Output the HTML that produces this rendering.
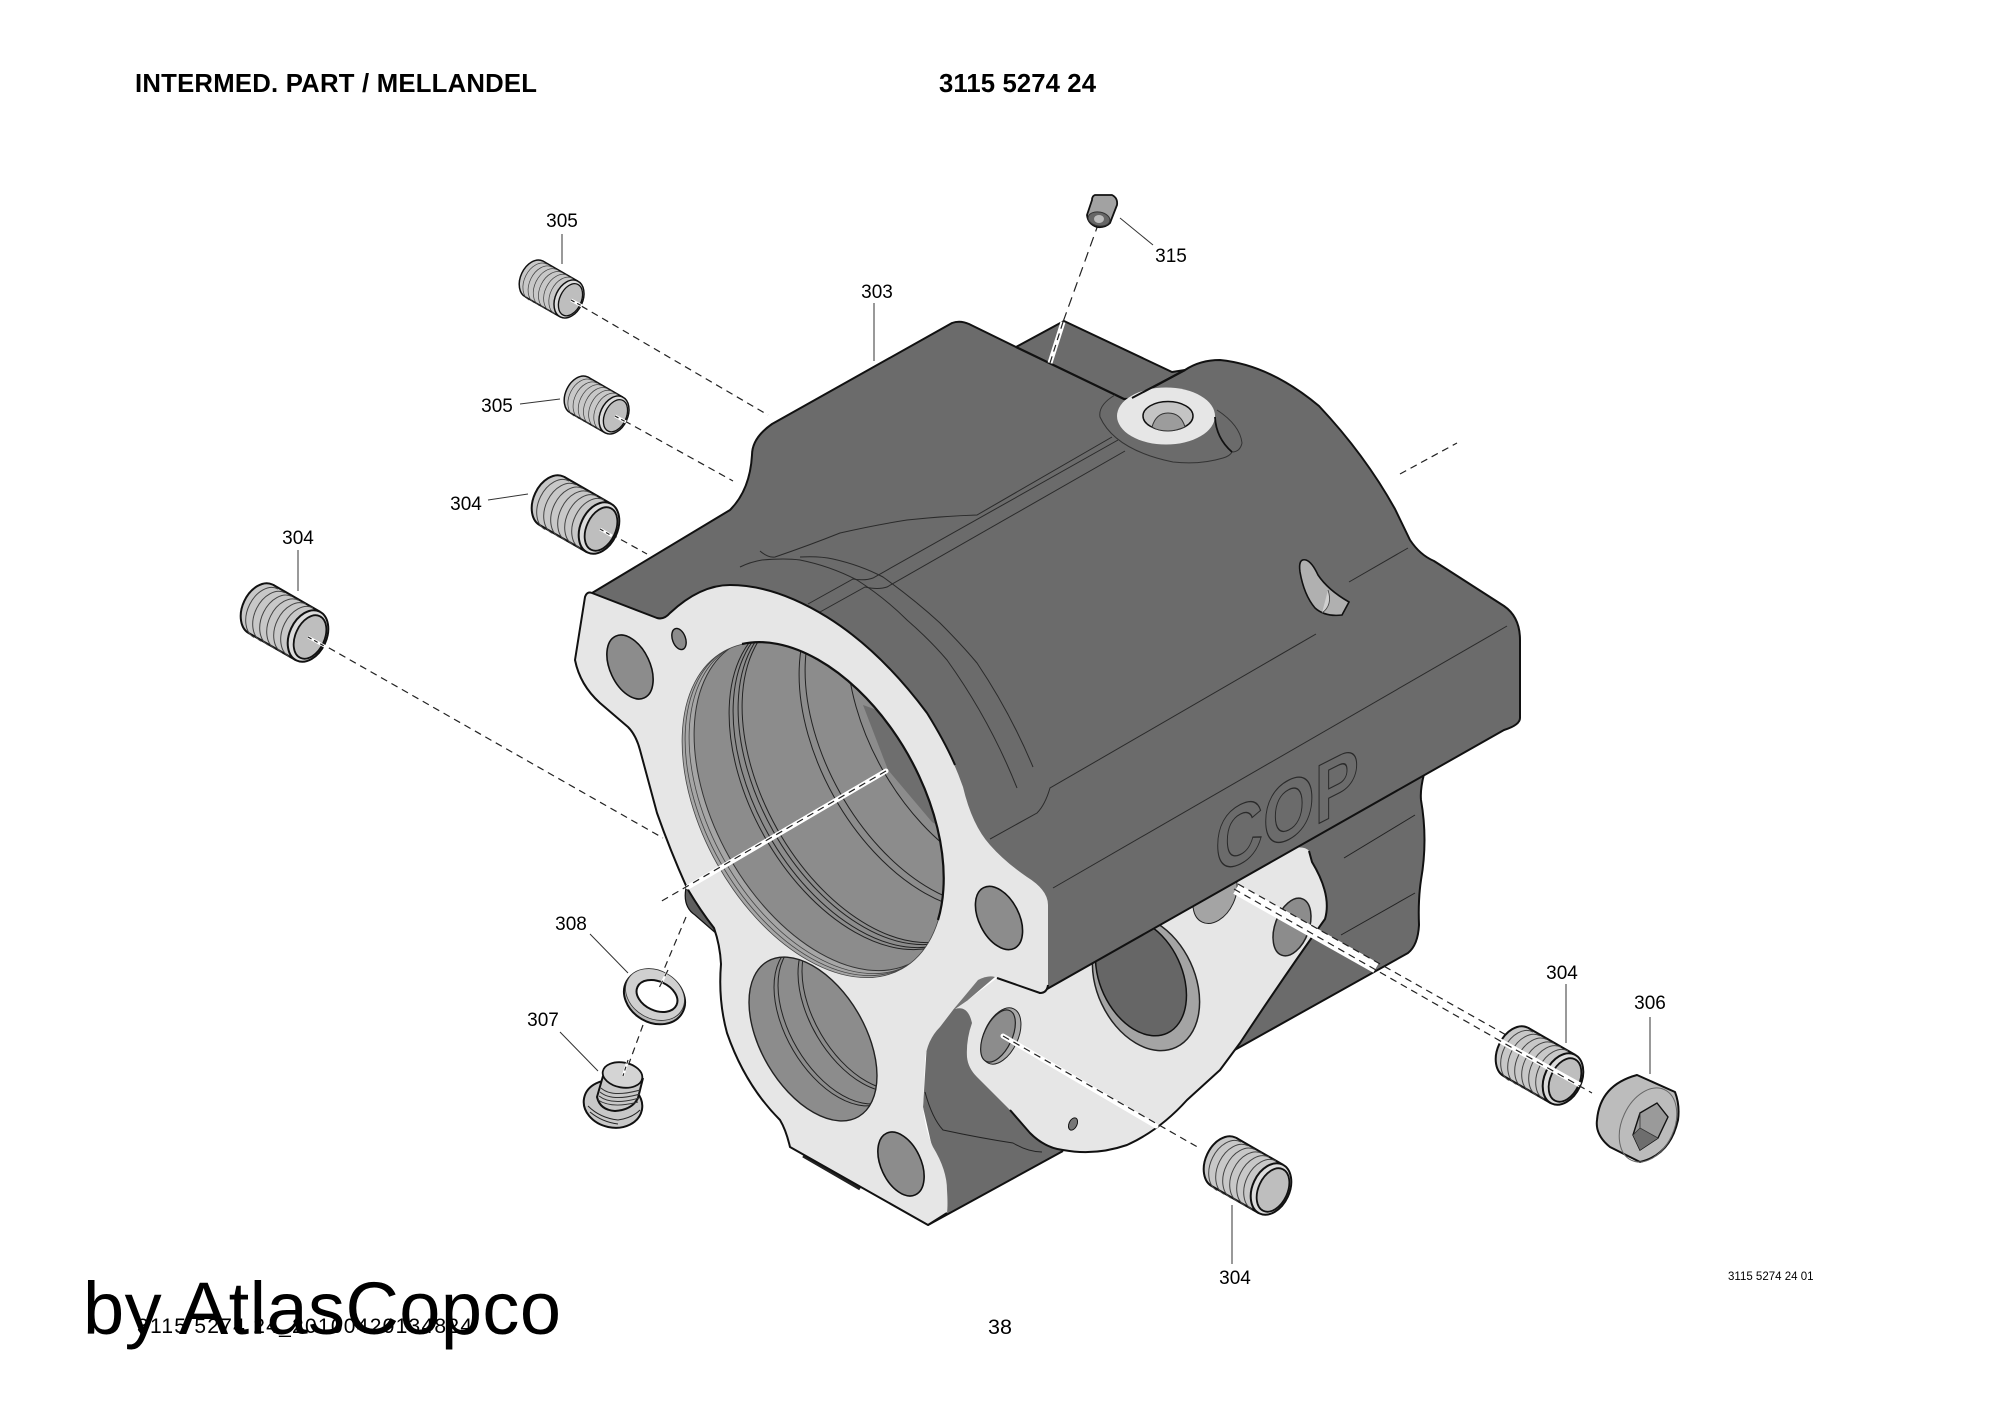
<!DOCTYPE html>
<html><head><meta charset="utf-8"><style>
html,body{margin:0;padding:0;background:#fff}
svg{display:block}
text{font-family:"Liberation Sans",Arial,sans-serif;fill:#000}
.l{font-size:19px;text-anchor:middle}
.ld{stroke:#333;stroke-width:1;fill:none}
.t{stroke:#222;stroke-width:1;fill:none}
.tg{stroke:#2a2a2a;stroke-width:1;fill:none}
.d{stroke:#222;stroke-width:1.2;fill:none;stroke-dasharray:7 5}
.w{stroke:#fff;stroke-width:5;fill:none}
</style></head><body>
<svg width="2000" height="1414" viewBox="0 0 2000 1414" xmlns="http://www.w3.org/2000/svg">
<defs>
<g id="s">
<ellipse cx="-47" cy="-27" rx="18.5" ry="27" transform="rotate(25 -47 -27)" fill="#c8c8c8" stroke="#111" stroke-width="2"/>
<polygon points="12,-24.2 -35,-51.2 -59,-2.8 -12,24.2" fill="#c8c8c8"/>
<path d="M12,-24.2L-35,-51.2M-59,-2.8L-12,24.2" stroke="#111" stroke-width="2" fill="none"/>
<path d="M5,-28a18.5 27 25 0 0 -24 48.4m17,-52.2a18.5 27 25 0 0 -24 48.4m17,-52.2a18.5 27 25 0 0 -24 48.4m17,-52.2a18.5 27 25 0 0 -24 48.4m17,-52.2a18.5 27 25 0 0 -24 48.4m17,-52.2a18.5 27 25 0 0 -24 48.4" stroke="#444" stroke-width="1" fill="none"/>
<ellipse rx="18.5" ry="27" transform="rotate(25)" fill="#dcdcdc" stroke="#111" stroke-width="2"/>
<ellipse cx="2" cy="1" rx="14.5" ry="23" transform="rotate(25 2 1)" fill="#bebebe" stroke="#111" stroke-width="1.8"/>
</g>
<clipPath id="cb"><ellipse cx="813" cy="810" rx="110" ry="182" transform="rotate(-29.3 813 810)"/></clipPath>
<clipPath id="cb2"><ellipse cx="813" cy="1039" rx="52" ry="90" transform="rotate(-30.5 813 1039)"/></clipPath>
</defs>
<rect width="2000" height="1414" fill="#fff"/>

<!-- lower back body -->
<path d="M1424,774Q1420,790 1421,800Q1428,840 1421,880Q1418,900 1419,925Q1418,945 1408,953L1231,1052L1100,1000L1293,848Z" fill="#6b6b6b" stroke="#111" stroke-width="2" stroke-linejoin="round"/>
<path d="M1344,858L1415,815M1341,935L1415,893" class="t"/>
<!-- pocket -->
<path d="M945,1000L980,1000L980,1023L1030,1100L1063,1151L928,1225L947,1213L923,1107L927,1043Z" fill="#6b6b6b"/>
<path d="M928,1225L1063,1151" stroke="#111" stroke-width="2" fill="none"/>
<path d="M925,1092Q932,1118 943,1130Q980,1138 1013,1143Q1028,1152 1042,1152" class="t"/>
<!-- flange 2 -->
<path d="M997,978L968,1000L955,1009Q968,1005 972,1023Q966,1040 967,1057Q968,1068 977,1077L1007,1107Q1025,1125 1030,1133Q1045,1148 1063,1150Q1095,1156 1127,1145Q1160,1130 1187,1100L1220,1070L1240,1043Q1285,975 1325,919Q1332,895 1312,862L1309,851Q1305,846 1293,848L1040,993Z" fill="#e6e6e6"/>
<path d="M1010,1110L1030,1133Q1045,1148 1063,1150Q1095,1156 1127,1145Q1160,1130 1187,1100L1220,1070L1240,1043Q1285,975 1325,919Q1332,895 1312,862L1309,851" fill="none" stroke="#111" stroke-width="2" stroke-linejoin="round"/>
<ellipse cx="1146" cy="983" rx="49" ry="71" transform="rotate(-25 1146 983)" fill="#a4a4a4" stroke="#222" stroke-width="1.5"/>
<ellipse cx="1141" cy="977" rx="41" ry="62" transform="rotate(-25 1141 977)" fill="#666" stroke="#111" stroke-width="1.5"/>
<ellipse cx="1292" cy="927" rx="17" ry="30" transform="rotate(20 1292 927)" fill="#8c8c8c" stroke="#222" stroke-width="1.5"/>
<ellipse cx="1215" cy="895" rx="20" ry="30" transform="rotate(25 1215 895)" fill="#a4a4a4" stroke="#222" stroke-width="1"/>
<ellipse cx="1001" cy="1036" rx="17" ry="30" transform="rotate(25 1001 1036)" fill="#a8a8a8" stroke="#222" stroke-width="1"/>
<ellipse cx="998" cy="1036" rx="14" ry="28" transform="rotate(25 998 1036)" fill="#8c8c8c" stroke="#222" stroke-width="1.2"/>
<ellipse cx="1073" cy="1124" rx="4" ry="6.5" transform="rotate(25 1073 1124)" fill="#777" stroke="#111" stroke-width="1"/>

<!-- main body -->
<path d="M592,593L730,510Q750,490 752,455Q752,438 772,424L952,323Q960,320 969,324L1016,347L1064,321L1172,372L1185,370Q1200,360 1220,360Q1270,365 1319,406Q1365,455 1395,509L1410,540Q1420,555 1434,561L1504,606Q1520,617 1520,640L1520,718Q1520,725 1504,730L1040,993Z" fill="#6b6b6b" stroke="#111" stroke-width="2" stroke-linejoin="round"/>
<path d="M1016,347L1124,399L1131,399L1185,370" fill="none" stroke="#111" stroke-width="2.2"/>
<!-- body thin lines -->
<path d="M760,551Q768,558 775,557Q810,545 840,533Q875,525 907,520Q945,516 977,515L1112,437" class="tg"/>
<path d="M808,604L853,579Q865,581 873,578L1118,440" class="tg"/>
<path d="M820,612L865,587Q878,590 887,587L1125,451" class="tg"/>
<path d="M740,567Q750,562 762,560Q785,558 800,560Q830,566 857,580Q885,598 907,620Q930,640 947,660Q990,720 1017,788" class="tg"/>
<path d="M800,557Q820,556 833,559Q860,565 883,577Q915,600 940,623Q962,645 977,663Q1010,712 1033,767" class="tg"/>
<path d="M990,839L1037,813Q1045,805 1050,788L1316,634" class="tg"/>
<path d="M1053,888L1507,626" class="tg"/>
<path d="M1349,582L1408,548" class="tg"/>
<!-- boss -->
<path d="M1115,395Q1098,405 1100,417Q1115,450 1173,462Q1200,465 1223,458Q1230,456 1232,452M1217,410Q1240,425 1242,443Q1240,452 1232,452" fill="none" stroke="#333" stroke-width="1"/>
<ellipse cx="1166" cy="416" rx="49" ry="28.5" fill="#e6e6e6"/>
<path d="M1215,417Q1216,438 1232,452" fill="none" stroke="#111" stroke-width="1.8"/>
<path d="M1132,398L1185,370" fill="none" stroke="#111" stroke-width="2"/>
<ellipse cx="1168" cy="416" rx="25" ry="14.5" fill="#c4c4c4" stroke="#111" stroke-width="1.5"/>
<path d="M1152,427Q1156,413 1168,413Q1181,413 1185,427Q1176,431 1168,431Q1158,431 1152,427Z" fill="#9c9c9c" stroke="#333" stroke-width="1"/>
<!-- slot -->
<path d="M1306,560Q1298,558 1300,572Q1304,595 1315,608Q1325,617 1342,615L1349,602Q1328,590 1318,575Q1312,562 1306,560Z" fill="#b0b0b0" stroke="#111" stroke-width="1.6"/>
<path d="M1322,613Q1333,605 1328,590" fill="#d0d0d0" stroke="#444" stroke-width=".8"/>
<!-- COP -->
<text transform="matrix(.83 -.42 0 1.05 1215 876)" font-size="80" font-weight="700" style="fill:none;stroke:#2a2a2a;stroke-width:1.2">COP</text>

<!-- flange 1 -->
<path d="M688,880Q680,905 695,915L718,935L730,930L705,880Z" fill="#5e5e5e" stroke="#111" stroke-width="1.2"/>
<path d="M803,1156L860,1189" stroke="#222" stroke-width="3" fill="none"/>
<path d="M592,593L657,618Q664,620 670,613Q700,585 730,585Q775,585 827,617Q880,650 927,713Q950,750 963,787Q972,825 990,845Q1005,862 1027,877Q1048,890 1048,905L1048,985Q1047,993 1040,993L997,978Q988,974 978,981L953,1010L940,1027Q927,1040 925,1060L923,1107Q925,1130 933,1147Q947,1170 947,1190Q948,1205 947,1213L928,1225L790,1147Q786,1130 780,1120Q745,1085 727,1033Q718,1000 721,964Q720,945 714,928Q700,910 687,888Q670,850 657,813L640,750Q636,735 628,727L600,703Q580,685 575,660L585,597Q587,591 592,593Z" fill="#e6e6e6"/>
<path d="M955,765Q945,742 927,713Q880,650 827,617Q775,585 730,585Q700,585 670,613Q664,620 657,618L592,593Q587,591 585,597L575,660Q580,685 600,703L628,727Q636,735 640,750L657,813Q670,850 687,888Q700,910 714,928Q720,945 721,964Q718,1000 727,1033Q745,1085 780,1120Q786,1130 790,1147L928,1225L947,1213M1048,985Q1047,993 1040,993L997,978" fill="none" stroke="#111" stroke-width="2" stroke-linejoin="round"/>
<path d="M953,1010L978,980Q988,975 995,977L968,1000Z" fill="#757575"/>

<!-- holes -->
<ellipse cx="630" cy="667" rx="20" ry="34" transform="rotate(-25 630 667)" fill="#8c8c8c" stroke="#111" stroke-width="1.6"/>
<ellipse cx="679" cy="639" rx="6.5" ry="11" transform="rotate(-20 679 639)" fill="#8c8c8c" stroke="#111" stroke-width="1.4"/>
<ellipse cx="999" cy="918" rx="20" ry="34" transform="rotate(-27 999 918)" fill="#8c8c8c" stroke="#111" stroke-width="1.6"/>
<ellipse cx="901" cy="1164" rx="20" ry="34" transform="rotate(-25 901 1164)" fill="#8c8c8c" stroke="#111" stroke-width="1.6"/>

<!-- big bore -->
<ellipse cx="813" cy="810" rx="110" ry="182" transform="rotate(-29.3 813 810)" fill="#a6a6a6"/>
<g clip-path="url(#cb)">
<ellipse cx="825" cy="803" rx="110" ry="182" transform="rotate(-29.3 825 803)" fill="#8c8c8c" stroke="#333" stroke-width="1"/>
<ellipse cx="820" cy="806" rx="110" ry="182" transform="rotate(-29.3 820 806)" fill="none" stroke="#444" stroke-width=".8"/>
<ellipse cx="816" cy="808" rx="110" ry="182" transform="rotate(-29.3 816 808)" fill="none" stroke="#444" stroke-width=".8"/>
<polygon points="863,705 905,720 945,830 932,822 888,770" fill="#6e6e6e"/>
<ellipse cx="860" cy="782" rx="110" ry="182" transform="rotate(-29.3 860 782)" class="t"/>
<ellipse cx="864" cy="780" rx="110" ry="182" transform="rotate(-29.3 864 780)" class="t"/>
<ellipse cx="869" cy="777" rx="110" ry="182" transform="rotate(-29.3 869 777)" class="t"/>
<ellipse cx="873" cy="775" rx="110" ry="182" transform="rotate(-29.3 873 775)" class="t"/>
<ellipse cx="930" cy="743" rx="110" ry="182" transform="rotate(-29.3 930 743)" class="t"/>
<ellipse cx="936" cy="739" rx="110" ry="182" transform="rotate(-29.3 936 739)" class="t"/>
<ellipse cx="978" cy="715" rx="110" ry="182" transform="rotate(-29.3 978 715)" class="t"/>
</g>
<ellipse cx="813" cy="810" rx="110" ry="182" transform="rotate(-29.3 813 810)" fill="none" stroke="#444" stroke-width=".8"/>
<path d="M742,644A110 182 -29.3 0 1 938,920" fill="none" stroke="#111" stroke-width="2.2"/>

<!-- lower bore -->
<ellipse cx="813" cy="1039" rx="52" ry="90" transform="rotate(-30.5 813 1039)" fill="#8c8c8c"/>
<g clip-path="url(#cb2)">
<ellipse cx="838" cy="1024" rx="52" ry="90" transform="rotate(-30.5 838 1024)" class="t"/>
<ellipse cx="842" cy="1022" rx="52" ry="90" transform="rotate(-30.5 842 1022)" class="t"/>
<ellipse cx="862" cy="1010" rx="52" ry="90" transform="rotate(-30.5 862 1010)" class="t"/>
<ellipse cx="866" cy="1008" rx="52" ry="90" transform="rotate(-30.5 866 1008)" class="t"/>
</g>
<ellipse cx="813" cy="1039" rx="52" ry="90" transform="rotate(-30.5 813 1039)" fill="none" stroke="#222" stroke-width="1.4"/>

<!-- axis dashed lines -->
<path d="M308,636L663,838" class="d"/>
<path d="M571,300L768,415" class="d"/>
<path d="M614,415L733,481" class="d"/>
<path d="M600,528L647,554" class="d"/>
<path d="M886,771L688,887" class="w" style="stroke-linecap:round"/><path d="M886,771L660,902" class="d"/>
<path d="M686,917L657,986" class="d"/>
<path d="M643,1025L624,1077" class="d"/>
<path d="M1099,222L1063,322" class="d" style="stroke-dasharray:10 6"/>
<path d="M1063,322L1050,363" class="w"/><path d="M1063,322L1050,363" class="d"/>
<path d="M1400,474L1457,443" class="d"/>
<path d="M1003,1036L1156,1126" class="w" style="stroke-linecap:round"/><path d="M1003,1036L1201,1149" class="d"/>
<path d="M1236,889L1376,968" class="w" style="stroke-width:11"/>
<path d="M1234,889L1504,1043M1238,884L1508,1036" class="d"/>

<!-- screws -->
<use href="#s" transform="translate(308 636)"/>
<use href="#s" transform="translate(599 528)"/>
<use href="#s" transform="translate(569 299) scale(.74)"/>
<use href="#s" transform="translate(614 415) scale(.74)"/>
<use href="#s" transform="translate(1271 1189)"/>
<use href="#s" transform="translate(1563 1079)"/>
<path d="M308,637L326,647M600,529L612,536M571,300L582,306M615,416L626,422" class="w" style="stroke-width:3"/>
<path d="M308,637L326,647M600,529L612,536M571,300L582,306M615,416L626,422" class="d" style="stroke-dasharray:4 3"/>
<path d="M1495,1038L1580,1085" class="w"/>
<path d="M1495,1038L1592,1093" class="d"/>

<!-- 306 -->
<path d="M1637,1075L1675,1092Q1680,1105 1678,1120Q1670,1155 1640,1162L1610,1147Q1595,1135 1597,1120Q1600,1085 1637,1075Z" fill="#bcbcbc" stroke="#111" stroke-width="2" stroke-linejoin="round"/>
<ellipse cx="1648" cy="1125" rx="26" ry="39" transform="rotate(25 1648 1125)" fill="none" stroke="#666" stroke-width="1"/>
<polygon points="1657,1103 1668,1117 1658,1138 1640,1150 1633,1135 1640,1113" fill="#9a9a9a" stroke="#111" stroke-width="1.4"/>
<polygon points="1640,1128 1658,1138 1640,1150 1633,1135" fill="#6e6e6e"/>
<path d="M1640,1113L1640,1128L1658,1138M1640,1128L1633,1135" stroke="#333" stroke-width=".8" fill="none"/>

<!-- 315 -->
<path d="M1095,195L1112,195Q1118,198 1117,205L1110,223Q1105,228 1097,227Q1088,224 1087,215L1092,200Q1092,196 1095,195Z" fill="#a2a2a2" stroke="#111" stroke-width="1.8" stroke-linejoin="round"/>
<ellipse cx="1099" cy="219" rx="11" ry="7" transform="rotate(10 1099 219)" fill="#666" stroke="#333" stroke-width="1"/>
<ellipse cx="1099" cy="219" rx="5" ry="4" fill="#bbb"/>

<!-- 308 -->
<ellipse cx="654.5" cy="997" rx="32" ry="25.5" transform="rotate(30 654.5 997)" fill="#b8b8b8" stroke="#111" stroke-width="2"/>
<ellipse cx="655" cy="994.5" rx="31" ry="24" transform="rotate(30 655 994.5)" fill="#d0d0d0" stroke="#333" stroke-width=".8"/>
<ellipse cx="657" cy="996" rx="21.5" ry="14.5" transform="rotate(25 657 996)" fill="#fff" stroke="#111" stroke-width="2"/>
<path d="M668,970L659,988" class="d" style="stroke:#fff;stroke-width:2;stroke-dasharray:none"/>
<path d="M668,970L659,988" class="d"/>

<!-- 307 -->
<ellipse cx="613" cy="1104" rx="29.5" ry="23.5" transform="rotate(12 613 1104)" fill="#c8c8c8" stroke="#111" stroke-width="2"/>
<path d="M588,1106Q600,1118 618,1120Q632,1118 640,1110M590,1112Q602,1122 618,1124" class="t"/>
<path d="M603,1076L597,1097Q600,1110 615,1111Q632,1110 638,1098L643,1078Z" fill="#c8c8c8"/>
<path d="M603,1076L597,1097Q600,1110 615,1111Q632,1110 638,1098L643,1078" stroke="#111" stroke-width="2" fill="none"/>
<path d="M601,1088Q612,1098 640,1090M600,1092Q612,1102 640,1094M599,1096Q612,1106 639,1098M598,1100Q612,1109 638,1102" stroke="#333" stroke-width="1" fill="none"/>
<ellipse cx="622.5" cy="1075" rx="20" ry="12.5" transform="rotate(10 622.5 1075)" fill="#d4d4d4" stroke="#111" stroke-width="1.8"/>
<path d="M628,1060L623,1076" stroke="#fff" stroke-width="2.5"/>
<path d="M628,1060L623,1076" class="d" style="stroke-dasharray:4 3"/>

<!-- leaders -->
<path class="ld" d="M562,234V264M874,303V361M520,404L560,399M488,500L528,494M298,550V591M1120,218L1153,245M590,934L628,973M560,1032L598,1071M1566,984V1043M1650,1017V1074M1232,1205V1264"/>

<!-- labels -->
<text class="l" x="562" y="227">305</text>
<text class="l" x="877" y="298">303</text>
<text class="l" x="497" y="412">305</text>
<text class="l" x="466" y="510">304</text>
<text class="l" x="298" y="544">304</text>
<text class="l" x="1171" y="262">315</text>
<text class="l" x="571" y="930">308</text>
<text class="l" x="543" y="1026">307</text>
<text class="l" x="1562" y="979">304</text>
<text class="l" x="1650" y="1009">306</text>
<text class="l" x="1235" y="1284">304</text>
<text x="1728" y="1280" font-size="11.5">3115 5274 24 01</text>
<text x="135" y="92" font-size="25.7" font-weight="700" textLength="402">INTERMED. PART / MELLANDEL</text>
<text x="939" y="92" font-size="25.7" font-weight="700" textLength="157">3115 5274 24</text>
<text x="137" y="1333" font-size="21" textLength="335">3115 5274 24_20100420134824</text>
<text x="1000" y="1334" font-size="21.5" text-anchor="middle">38</text>
<text x="83" y="1334" font-size="74" textLength="478">by AtlasCopco</text>
</svg>
</body></html>
